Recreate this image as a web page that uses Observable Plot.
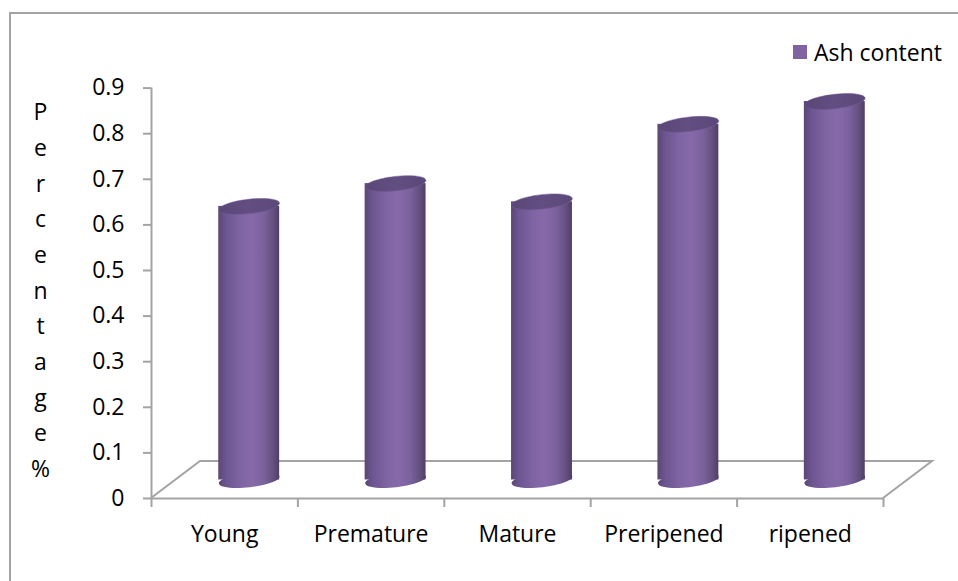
<!DOCTYPE html>
<html>
<head>
<meta charset="utf-8">
<script src="https://cdn.jsdelivr.net/npm/d3@7"></script>
<script src="https://cdn.jsdelivr.net/npm/@observablehq/plot@0.6"></script>
<style>
  html, body { margin: 0; padding: 0; background: #fff; }
  #wrap { position: relative; width: 958px; height: 581px; overflow: hidden; font-family: "Open Sans", sans-serif; }
  #frame { position: absolute; left: 9px; top: 12px; width: 1000px; height: 1000px; border-left: 2px solid #a3a3a3; border-top: 2px solid #a3a3a3; }
  #chart { position: absolute; left: 0; top: 0; }
  #legend { position: absolute; left: 793px; top: 36px; font-size: 23px; color: #000; display: flex; align-items: center; }
  #legend .sw { width: 14px; height: 14px; background: #8064a2; margin-right: 7px; }
</style>
</head>
<body>
<div id="wrap">
  <div id="frame"></div>
  <div id="chart"></div>
  <div id="legend"><span class="sw"></span><span id="legend-label"></span></div>
</div>
<script>
// Ash content by ripening stage
const categories = ["Young", "Premature", "Mature", "Preripened", "ripened"];
const ashContent = [0.60, 0.65, 0.61, 0.78, 0.83];
const yTicks = [0, 0.1, 0.2, 0.3, 0.4, 0.5, 0.6, 0.7, 0.8, 0.9];
const seriesName = "Ash content";
const yTitle = "Percentage%";

// 3D look: depth of the floor in pixels, cylinders sit half way back
const DEPTH_X = 49, DEPTH_Y = -37;
const BAR_HALF = 0.208; // half cylinder width, in category slots
const GRAY = "#a3a3a3";

const rows = categories.map((c, i) => ({name: c, i, value: ashContent[i]}));

// tilted ellipse drawn as a custom dot symbol (cylinder caps)
const TILT = -6.5 * Math.PI / 180;
const ellipse = {
  draw(context, size) {
    const rx = Math.sqrt(size / Math.PI), ry = 7.2;
    const k = 0.5523;
    const c = Math.cos(TILT), s = Math.sin(TILT);
    const P = (u, v) => [u * c - v * s, u * s + v * c];
    const pts = [
      [P(rx, 0)],
      [P(rx, k * ry), P(k * rx, ry), P(0, ry)],
      [P(-k * rx, ry), P(-rx, k * ry), P(-rx, 0)],
      [P(-rx, -k * ry), P(-k * rx, -ry), P(0, -ry)],
      [P(k * rx, -ry), P(rx, -k * ry), P(rx, 0)]
    ];
    context.moveTo(...pts[0][0]);
    for (let j = 1; j < pts.length; ++j) {
      const [a, b, d] = pts[j];
      context.bezierCurveTo(a[0], a[1], b[0], b[1], d[0], d[1]);
    }
    context.closePath();
  }
};

// floor of the 3D plot area
function floor(index, {x, y}) {
  const x0 = x(0), x1 = x(categories.length), y0 = y(0);
  const g = d3.create("svg:g");
  g.append("path")
    .attr("d", `M${x0},${y0}L${x0 + DEPTH_X},${y0 + DEPTH_Y}L${x1 + DEPTH_X},${y0 + DEPTH_Y}L${x1},${y0}`)
    .attr("fill", "none")
    .attr("stroke", GRAY)
    .attr("stroke-width", 2);
  return g.node();
}

const shift = {dx: DEPTH_X / 2, dy: DEPTH_Y / 2};

const chart = Plot.plot({
  width: 958,
  height: 581,
  marginLeft: 151,
  marginRight: 75,
  marginTop: 87.6,
  marginBottom: 83,
  style: {fontFamily: "Open Sans, sans-serif", fontSize: "23px", color: "#000", background: "transparent", overflow: "visible"},
  x: {type: "linear", domain: [0, categories.length]},
  y: {domain: [0, 0.9]},
  marks: [
    floor,
    // value axis
    Plot.ruleX([0], {y1: 0, y2: 0.9, stroke: GRAY, strokeWidth: 2}),
    Plot.axisY({ticks: yTicks, tickSize: 8, tickPadding: 19, tickFormat: d => String(d), stroke: GRAY, strokeWidth: 2, fill: "#000", label: null}),
    // category boundaries and labels
    Plot.axisX({ticks: d3.range(categories.length + 1), tickSize: 9, tickFormat: () => "", stroke: GRAY, strokeWidth: 2, label: null}),
    Plot.axisX({ticks: categories.map((c, i) => i + 0.5), tickSize: 0, tickPadding: 27, tickFormat: d => categories[Math.floor(d)], fill: "#000", label: null}),
    Plot.ruleY([0], {stroke: GRAY, strokeWidth: 2}),
    // cylinders: bottom cap, body, top cap
    Plot.dot(rows, {x: d => d.i + 0.5, y: 0, r: 30.5, symbol: ellipse, fill: "url(#cyl)", stroke: "none", ...shift}),
    Plot.rectY(rows, {x1: d => d.i + 0.5 - BAR_HALF, x2: d => d.i + 0.5 + BAR_HALF, y1: 0, y2: "value", fill: "url(#cyl)", ...shift}),
    Plot.dot(rows, {x: d => d.i + 0.5, y: "value", r: 30.5, symbol: ellipse, fill: "url(#cap)", stroke: "#735c93", strokeWidth: 0.5, ...shift}),
    // axis title, one letter per line
    Plot.text([yTitle.split("").join("\n")], {frameAnchor: "left", textAnchor: "middle", dx: -111, dy: -6, lineHeight: 1.55, fill: "#000"})
  ]
});

// shading gradients for the cylinders
const defs = d3.select(chart).insert("defs", ":first-child");
const body = defs.append("linearGradient").attr("id", "cyl").attr("x1", "0").attr("x2", "1").attr("y1", "0").attr("y2", "0");
[[0, "#5a4676"], [0.12, "#6c5590"], [0.35, "#7e64a2"], [0.55, "#8769aa"], [0.75, "#7a619d"], [0.9, "#65507f"], [1, "#4f3e66"]]
  .forEach(([o, c]) => body.append("stop").attr("offset", o).attr("stop-color", c));
const cap = defs.append("linearGradient").attr("id", "cap").attr("x1", "0").attr("x2", "1").attr("y1", "0").attr("y2", "0");
[[0, "#5a4776"], [0.5, "#634e82"], [1, "#5b4877"]]
  .forEach(([o, c]) => cap.append("stop").attr("offset", o).attr("stop-color", c));

document.getElementById("chart").appendChild(chart);
document.getElementById("legend-label").textContent = seriesName;
</script>
</body>
</html>
